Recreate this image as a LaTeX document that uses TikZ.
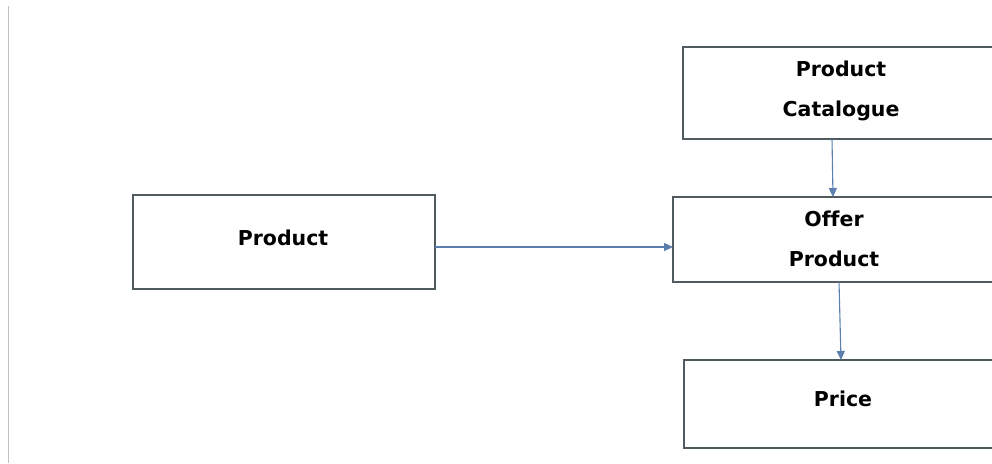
\documentclass[tikz,border=0pt]{standalone}
\usepackage{fontspec}
\newfontfamily\boxfont[Ligatures=NoCommon]{DejaVu Sans}
\usetikzlibrary{arrows.meta}
\definecolor{boxline}{HTML}{4F5B5E}
\definecolor{arrowblue}{HTML}{5B7FAE}
\definecolor{sideline}{HTML}{C2C2C2}
\tikzset{
  box/.style={draw=boxline, line width=1.3pt, fill=white, inner sep=0pt, outer sep=0pt},
  txt/.style={font=\boxfont\bfseries\fontsize{20.5}{40.5}\selectfont, text=black, align=center, inner sep=0pt},
  arr/.style={draw=arrowblue, line width=1.1pt, -{Triangle[length=9pt,width=8pt]}}
}
\begin{document}
\begin{tikzpicture}[x=1pt,y=-1pt]
\useasboundingbox (0,0) rectangle (992,463);
\clip (0,0) rectangle (992,463);
\fill[white] (0,0) rectangle (992,463);
\draw[sideline, line width=1.6pt] (8.5,6) -- (8.5,463);
% boxes
\node[box, minimum width=302pt, minimum height=94pt] (prod) at (284,242) {};
\node[box, minimum width=327pt, minimum height=92pt] (cat) at (846.5,93) {};
\node[box, minimum width=337pt, minimum height=85pt] (offer) at (841.5,239.5) {};
\node[box, minimum width=326pt, minimum height=88pt] (price) at (847,404) {};
% texts
\node[txt] (prodT) at (283,238) {Product};
\node[txt] (catT) at (841,91) {Product\\Catalogue};
\node[txt] (offerT) at (834,239) {Offer\\Product};
\node[txt] (priceT) at (843,399) {Price};
% connectors
\draw[arr] ([yshift=-5pt]prod.east) -- ([yshift=-7.5pt]offer.west);
\draw[arr] ([xshift=149pt]cat.south west) -- ([xshift=160pt]offer.north west);
\draw[arr] ([xshift=166pt]offer.south west) -- ([xshift=157pt]price.north west);
\end{tikzpicture}
\end{document}
